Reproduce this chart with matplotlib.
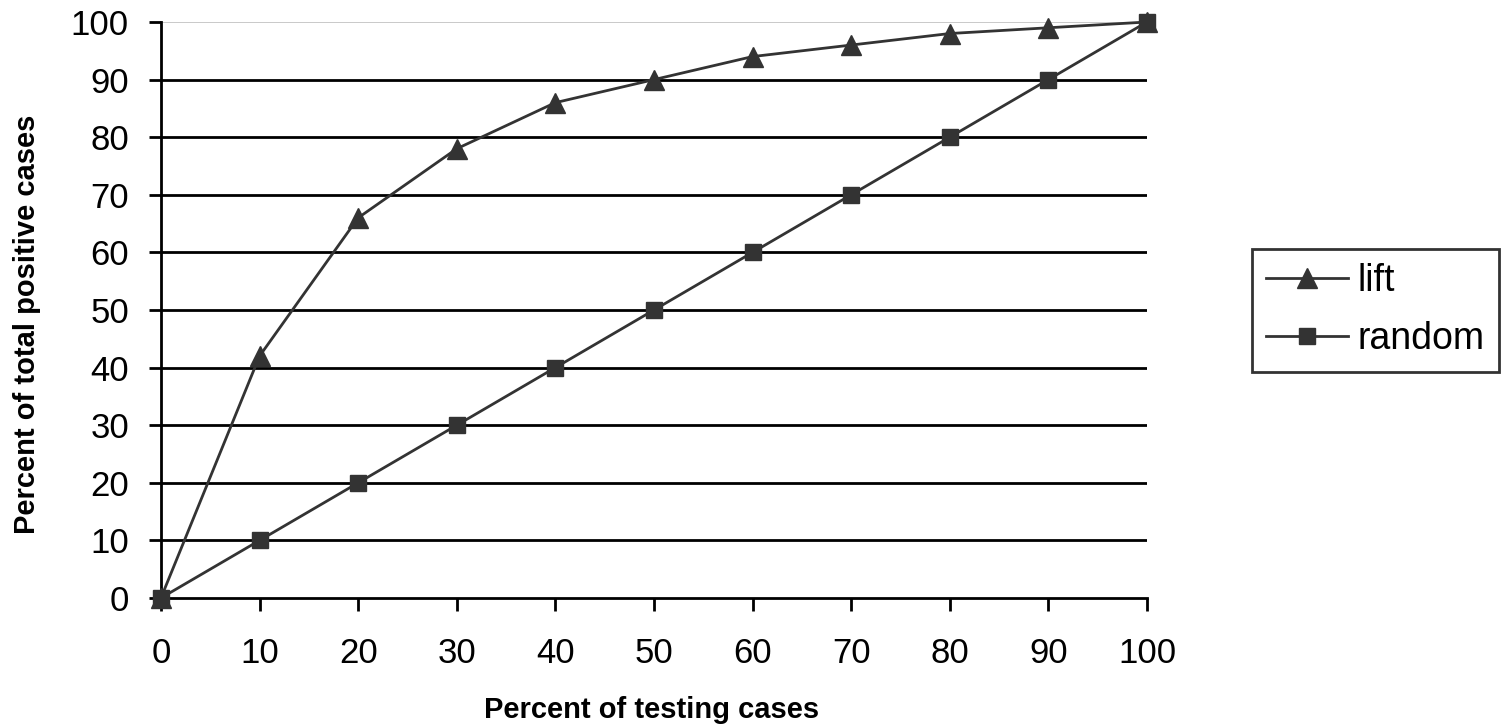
import matplotlib
matplotlib.use('Agg')
import matplotlib.pyplot as plt

plt.rcParams['font.family'] = ['Liberation Sans', 'DejaVu Sans']

# data
testing_pct = [0, 10, 20, 30, 40, 50, 60, 70, 80, 90, 100]
lift = [0, 42, 66, 78, 86, 90, 94, 96, 98, 99, 100]
random_pct = [0, 10, 20, 30, 40, 50, 60, 70, 80, 90, 100]
y_ticks = [0, 10, 20, 30, 40, 50, 60, 70, 80, 90, 100]

fig = plt.figure(figsize=(15.04, 7.24), dpi=100)
ax = fig.add_axes([0.107, 0.174, 0.6556, 0.7956])

# horizontal gridlines (top one is light gray)
for v in y_ticks[1:-1]:
    ax.axhline(v, color='black', lw=2, zorder=1)
ax.axhline(100, color='#c0c0c0', lw=1.2, zorder=1)

ax.plot(testing_pct, lift, color='#333333', lw=2, marker='^', markersize=14,
        label='lift', zorder=3, clip_on=False)
ax.plot(testing_pct, random_pct, color='#333333', lw=2, marker='s', markersize=12,
        label='random', zorder=4, clip_on=False)

ax.set_xlim(0, 100)
ax.set_ylim(0, 100)
ax.set_xticks(testing_pct)
ax.set_yticks(y_ticks)
ax.tick_params(axis='both', labelsize=25, width=2, length=9, direction='out', color='black')
ax.tick_params(axis='x', pad=19)
ax.tick_params(axis='y', pad=14)

for s in ['top', 'right']:
    ax.spines[s].set_visible(False)
ax.spines['left'].set_linewidth(2)
ax.spines['bottom'].set_linewidth(2)

fig.text(0.433, 0.0083, 'Percent of testing cases', fontsize=21, fontweight='bold',
         ha='center', va='baseline')
fig.text(0.018, 0.552, 'Percent of total positive cases', fontsize=21, fontweight='bold',
         ha='center', va='center', rotation=90)

leg = ax.legend(loc='center left', bbox_to_anchor=(1.1065, 0.5), fontsize=27, frameon=True,
                fancybox=False, edgecolor='black', borderpad=0.38, handlelength=2.19,
                handletextpad=0.24, labelspacing=0.6, borderaxespad=0)
leg.get_frame().set_linewidth(2)

fig.savefig('out.png', dpi=100)
